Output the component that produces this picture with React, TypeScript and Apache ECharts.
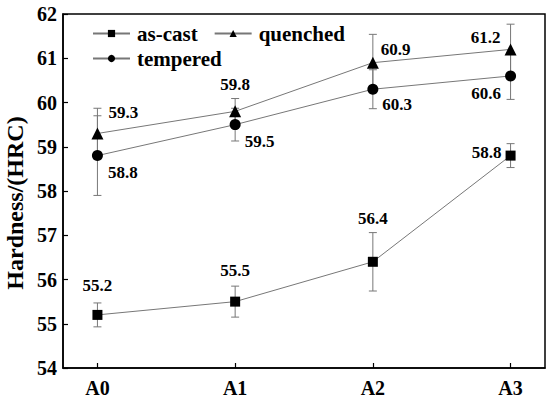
import React, { useEffect, useRef } from "react";
import * as echarts from "echarts";

const categories = ["A0", "A1", "A2", "A3"];
const asCast = [55.2, 55.5, 56.4, 58.8];
const asCastErr = [0.27, 0.35, 0.66, 0.27];
const quenched = [59.3, 59.8, 60.9, 61.2];
const quenchedErr = [0.57, 0.29, 0.64, 0.57];
const tempered = [58.8, 59.5, 60.3, 60.6];
const temperedErr = [0.9, 0.37, 0.44, 0.53];
const yTicks = [54, 55, 56, 57, 58, 59, 60, 61, 62];
const yTitle = "Hardness/(HRC)";

const FONT = "Times New Roman, Liberation Serif, serif";

const asCastLabels = [
  { position: "top", distance: 16, offset: [0, 0] },
  { position: "top", distance: 18, offset: [0, 0] },
  { position: "top", distance: 30, offset: [0, 0] },
  { position: "left", distance: 4, offset: [0, -3] },
];
const quenchedLabels = [
  { position: "right", distance: 5, offset: [0, -21] },
  { position: "top", distance: 12, offset: [0, 0] },
  { position: "right", distance: 2, offset: [0, -13] },
  { position: "left", distance: 4, offset: [0, -12] },
];
const temperedLabels = [
  { position: "right", distance: 5, offset: [0, 17] },
  { position: "right", distance: 4, offset: [0, 17] },
  { position: "right", distance: 4, offset: [0, 15] },
  { position: "left", distance: 4, offset: [0, 18] },
];

function lineSeries(name: string, vals: number[], symbol: string, size: number, labels: any[]) {
  return {
    name,
    type: "line",
    symbol,
    symbolSize: size,
    itemStyle: { color: "#000" },
    lineStyle: { color: "#777", width: 1 },
    z: 3,
    data: vals.map((v, i) => ({
      value: [i, v],
      label: {
        show: true,
        position: labels[i].position,
        distance: labels[i].distance,
        offset: labels[i].offset,
        formatter: v.toFixed(1),
        fontFamily: FONT,
        fontWeight: "bold",
        fontSize: 17,
        color: "#000",
      },
    })),
  };
}

function errSeries(vals: number[], errs: number[]) {
  return {
    type: "custom",
    silent: true,
    z: 2,
    data: vals.map((v, i) => [i, v - errs[i], v + errs[i]]),
    renderItem: (params: any, api: any) => {
      const x = api.value(0);
      const lo = api.coord([x, api.value(1)]);
      const hi = api.coord([x, api.value(2)]);
      const w = 4;
      const style = { stroke: "#777", lineWidth: 1 };
      return {
        type: "group",
        children: [
          { type: "line", shape: { x1: lo[0], y1: lo[1], x2: hi[0], y2: hi[1] }, style },
          { type: "line", shape: { x1: lo[0] - w, y1: lo[1], x2: lo[0] + w, y2: lo[1] }, style },
          { type: "line", shape: { x1: hi[0] - w, y1: hi[1], x2: hi[0] + w, y2: hi[1] }, style },
        ],
      };
    },
  };
}

export default function App() {
  const ref = useRef<HTMLDivElement>(null);
  useEffect(() => {
    const chart = echarts.init(ref.current!, null, { renderer: "svg" });
    const legendText = { fontFamily: FONT, fontWeight: "bold", fontSize: 21, color: "#000", padding: [0, 0, 0, 2] };
    chart.setOption({
      animation: false,
      backgroundColor: "#fff",
      textStyle: { fontFamily: FONT, fontWeight: "bold" },
      grid: {
        left: 63,
        right: 5,
        top: 14,
        bottom: 28,
        show: true,
        borderColor: "#000",
        borderWidth: 1.5,
      },
      graphic: [
        {
          type: "text",
          x: 15,
          y: 203,
          rotation: Math.PI / 2,
          style: {
            text: yTitle,
            font: "bold 24px " + FONT,
            fill: "#000",
            align: "center",
            verticalAlign: "middle",
          },
        },
      ],
      legend: [
        {
          data: ["as-cast", "quenched"],
          left: 87,
          top: 18,
          itemWidth: 37,
          itemHeight: 9,
          itemGap: 16,
          textStyle: legendText,
        },
        {
          data: ["tempered"],
          left: 87,
          top: 43,
          itemWidth: 37,
          itemHeight: 9,
          textStyle: legendText,
        },
      ],
      xAxis: {
        type: "value",
        min: -0.25,
        max: 3.25,
        splitLine: { show: false },
        axisLine: { onZero: false, lineStyle: { color: "#000", width: 1.5 } },
        axisTick: {
          inside: true,
          length: 5,
          customValues: [0, 1, 2, 3],
          lineStyle: { color: "#000", width: 1.2 },
        },
        axisLabel: {
          customValues: [0, 1, 2, 3],
          formatter: (v: number) => categories[Math.round(v)],
          fontFamily: FONT,
          fontWeight: "bold",
          fontSize: 20,
          color: "#000",
          margin: 10,
        },
      },
      yAxis: {
        type: "value",
        min: yTicks[0],
        max: yTicks[yTicks.length - 1],
        interval: 1,
        splitLine: { show: false },
        axisLine: { onZero: false, lineStyle: { color: "#000", width: 1.5 } },
        axisTick: { inside: true, length: 5, lineStyle: { color: "#000", width: 1.2 } },
        axisLabel: {
          fontFamily: FONT,
          fontWeight: "bold",
          fontSize: 20,
          color: "#000",
          margin: 6,
        },
      },
      series: [
        errSeries(asCast, asCastErr),
        errSeries(quenched, quenchedErr),
        errSeries(tempered, temperedErr),
        lineSeries("as-cast", asCast, "rect", 10, asCastLabels),
        lineSeries("quenched", quenched, "triangle", 12, quenchedLabels),
        lineSeries("tempered", tempered, "circle", 11, temperedLabels),
      ],
    });
    return () => chart.dispose();
  }, []);
  return <div ref={ref} style={{ width: 550, height: 398, position: "absolute", left: 0, top: 0 }} />;
}
